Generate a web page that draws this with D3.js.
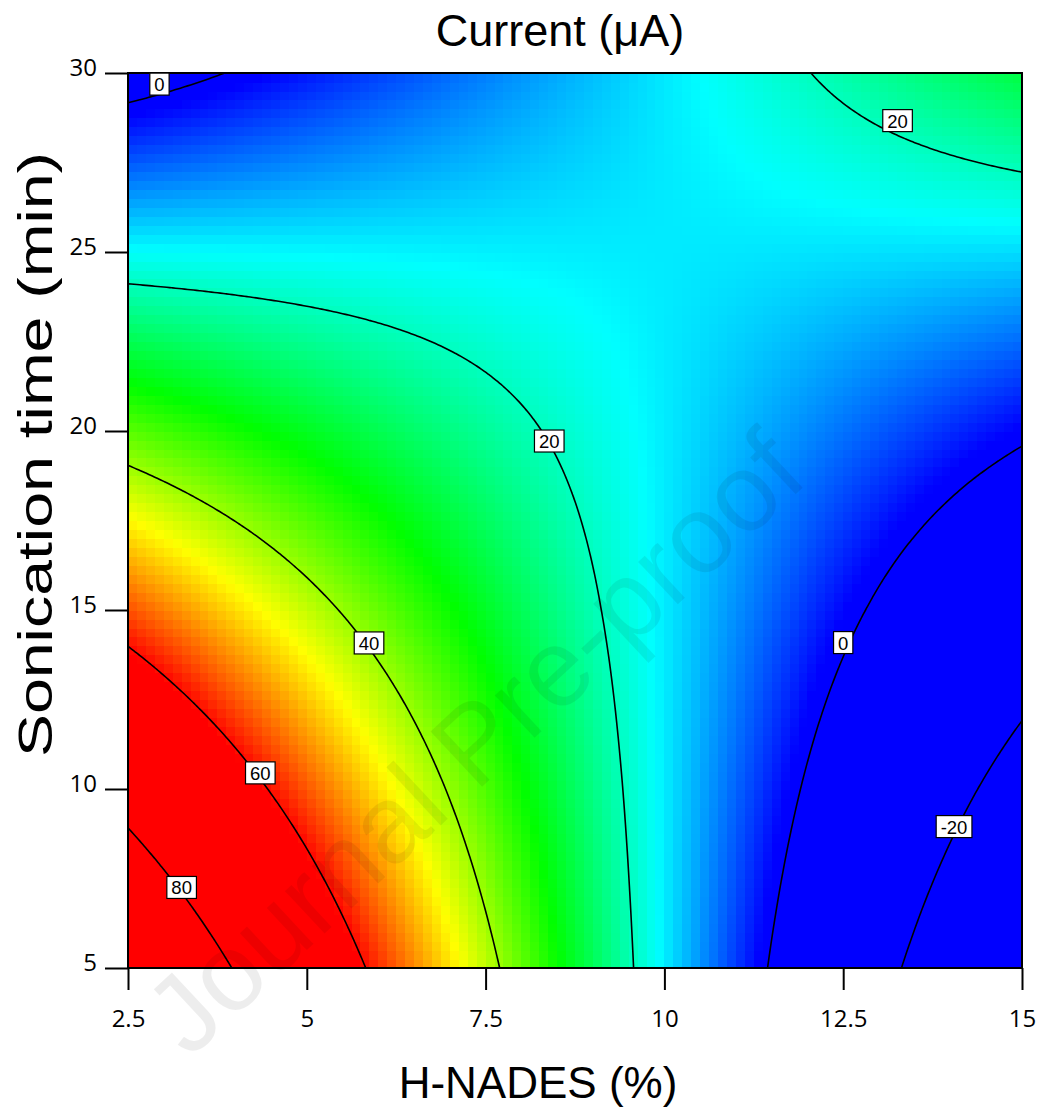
<!DOCTYPE html>
<html>
<head>
<meta charset="utf-8">
<script src="https://cdn.jsdelivr.net/npm/d3@7"></script>
<style>
  html, body { margin: 0; padding: 0; background: #fff; }
  svg { display: block; }
</style>
</head>
<body>
<svg id="chart" width="1038" height="1108"></svg>
<script>
// ---------------- data ----------------
const hnades = [2.5, 5, 7.5, 10, 12.5, 15];          // H-NADES (%) grid columns
const sonicationTime = [5, 10, 15, 20, 25, 30];      // Sonication time (min) grid rows
// Current (µA) at each (time row, H-NADES column)
const currentGrid = [
  [95.5, 68.8, 42.1, 15.4, -11.3, -38.0],  // 5 min
  [75.7, 55.6, 35.5, 15.3,  -4.8, -25.0],  // 10 min
  [56.0, 42.4, 28.8, 15.2,   1.7, -11.9],  // 15 min
  [36.2, 29.2, 22.2, 15.2,   8.1,   1.1],  // 20 min
  [16.5, 16.0, 15.5, 15.1,  14.6,  14.2],  // 25 min
  [-3.3,  2.8,  8.9, 15.0,  21.1,  27.2]   // 30 min
];
const contourLevels = [-20, 0, 20, 40, 60, 80];
const xTickValues = [2.5, 5, 7.5, 10, 12.5, 15];
const yTickValues = [5, 10, 15, 20, 25, 30];
const xTickLabels = ["2.5", "5", "7.5", "10", "12.5", "15"];
const yTickLabels = ["5", "10", "15", "20", "25", "30"];
// contour label anchors (level, H-NADES, time)
const labelLevels = [0, 20, 20, 40, 60, 80, 0, -20];
const labelH = [2.94, 13.26, 8.39, 5.87, 4.35, 3.25, 12.5, 14.05];
const labelT = [29.69, 28.67, 19.72, 14.08, 10.45, 7.25, 14.09, 8.95];
const colorStops = [1.5, 16.25, 31, 45.75, 60.5];
const colorNames = ["#0000ff", "#00ffff", "#00ff00", "#ffff00", "#ff0000"];

// ---------------- layout ----------------
const W = 1038, H = 1108;
const plot = { left: 128, right: 1022, top: 73, bottom: 968 };

const svg = d3.select("#chart");
const x = d3.scaleLinear().domain([2.5, 15]).range([plot.left, plot.right]);
const y = d3.scaleLinear().domain([5, 30]).range([plot.bottom, plot.top]);
const color = d3.scaleLinear().domain(colorStops).range(colorNames).clamp(true);

// bilinear lookup in the read grid
function valueAt(hx, ty) {
  let i = d3.bisectRight(hnades, hx) - 1; i = Math.max(0, Math.min(hnades.length - 2, i));
  let j = d3.bisectRight(sonicationTime, ty) - 1; j = Math.max(0, Math.min(sonicationTime.length - 2, j));
  const u = (hx - hnades[i]) / (hnades[i + 1] - hnades[i]);
  const v = (ty - sonicationTime[j]) / (sonicationTime[j + 1] - sonicationTime[j]);
  const a = currentGrid[j][i], b = currentGrid[j][i + 1], c = currentGrid[j + 1][i], d = currentGrid[j + 1][i + 1];
  return a * (1 - u) * (1 - v) + b * u * (1 - v) + c * (1 - u) * v + d * u * v;
}

const defs = svg.append("defs");
defs.append("clipPath").attr("id", "plotClip").append("rect")
  .attr("x", plot.left).attr("y", plot.top)
  .attr("width", plot.right - plot.left).attr("height", plot.bottom - plot.top);

// ---------------- heat cells ----------------
const N = 100;
const cells = [];
const hx0 = x.domain()[0], hx1 = x.domain()[1], ty0 = y.domain()[0], ty1 = y.domain()[1];
const dh = (hx1 - hx0) / N, dt = (ty1 - ty0) / N;
for (let j = 0; j < N; j++) {
  for (let i = 0; i < N; i++) {
    const h0 = hx0 + i * dh, t0 = ty0 + j * dt;
    cells.push({ h0, h1: h0 + dh, t0, t1: t0 + dt, v: valueAt(h0 + dh / 2, t0 + dt / 2) });
  }
}
const gHeat = svg.append("g").attr("clip-path", "url(#plotClip)").attr("shape-rendering", "crispEdges");
gHeat.selectAll("rect").data(cells).join("rect")
  .attr("x", d => x(d.h0))
  .attr("y", d => y(d.t1))
  .attr("width", d => x(d.h1) - x(d.h0) + 0.6)
  .attr("height", d => y(d.t0) - y(d.t1) + 0.6)
  .attr("fill", d => color(d.v));

// ---------------- contour lines ----------------
const M = 301;
const fine = new Float64Array(M * M);
for (let j = 0; j < M; j++) {
  for (let i = 0; i < M; i++) {
    fine[j * M + i] = valueAt(hx0 + i * (hx1 - hx0) / (M - 1), ty0 + j * (ty1 - ty0) / (M - 1));
  }
}
const contours = d3.contours().size([M, M]).thresholds(contourLevels)(fine);
const proj = d3.geoTransform({
  point(cx, cy) {
    const hv = hx0 + (cx - 0.5) * (hx1 - hx0) / (M - 1);
    const tv = ty0 + (cy - 0.5) * (ty1 - ty0) / (M - 1);
    this.stream.point(x(hv), y(tv));
  }
});
const path = d3.geoPath(proj);
svg.append("g").attr("clip-path", "url(#plotClip)")
  .selectAll("path").data(contours).join("path")
  .attr("d", path)
  .attr("fill", "none")
  .attr("stroke", "#000")
  .attr("stroke-width", 1.6);

// ---------------- frame ----------------
svg.append("rect")
  .attr("x", plot.left).attr("y", plot.top)
  .attr("width", plot.right - plot.left).attr("height", plot.bottom - plot.top)
  .attr("fill", "none").attr("stroke", "#000").attr("stroke-width", 2);

// ---------------- axes ----------------
const tickFont = "'Open Sans', 'Liberation Sans', Arial, sans-serif";
const xAxis = d3.axisBottom(x).tickValues(xTickValues)
  .tickFormat((d, i) => xTickLabels[i]).tickSize(22).tickSizeOuter(0).tickPadding(20);
const gx = svg.append("g").attr("transform", `translate(0,${plot.bottom})`).call(xAxis);
gx.select(".domain").remove();
gx.selectAll("line").attr("stroke", "#000").attr("stroke-width", 2);
gx.selectAll("text").attr("font-family", tickFont).attr("font-size", 24).attr("fill", "#000");

const yAxis = d3.axisLeft(y).tickValues(yTickValues)
  .tickFormat((d, i) => yTickLabels[i]).tickSize(23).tickSizeOuter(0).tickPadding(8);
const gy = svg.append("g").attr("transform", `translate(${plot.left},0)`).call(yAxis);
gy.select(".domain").remove();
gy.selectAll("line").attr("stroke", "#000").attr("stroke-width", 2);
gy.selectAll("text").attr("font-family", tickFont).attr("font-size", 24).attr("fill", "#000")
  .attr("dy", "2.5px");

// ---------------- contour labels ----------------
const gLab = svg.append("g");
labelLevels.forEach((lv, k) => {
  const cx = x(labelH[k]), cy = y(labelT[k]);
  const g = gLab.append("g");
  const r = g.append("rect");
  const t = g.append("text")
    .attr("x", cx).attr("y", cy + 7)
    .attr("text-anchor", "middle")
    .attr("font-family", "'Liberation Sans', Arial, sans-serif")
    .attr("font-size", 18.5)
    .attr("fill", "#000")
    .text(String(lv));
  const w = t.node().getComputedTextLength() + 9;
  r.attr("x", cx - w / 2).attr("y", cy - 11).attr("width", w).attr("height", 22)
    .attr("fill", "#fff").attr("stroke", "#000").attr("stroke-width", 1.2);
});

// ---------------- titles ----------------
svg.append("text")
  .attr("x", 560).attr("y", 46)
  .attr("text-anchor", "middle")
  .attr("font-family", "'Liberation Sans', Arial, sans-serif")
  .attr("font-size", 45)
  .attr("fill", "#000")
  .text("Current (μA)");

svg.append("text")
  .attr("x", 538).attr("y", 1098)
  .attr("text-anchor", "middle")
  .attr("font-family", "'Liberation Sans', Arial, sans-serif")
  .attr("font-size", 44)
  .attr("fill", "#000")
  .text("H-NADES (%)");

svg.append("text")
  .attr("transform", `translate(52,${(152 + 757) / 2}) rotate(-90)`)
  .attr("text-anchor", "middle")
  .attr("font-family", "'Liberation Sans', Arial, sans-serif")
  .attr("font-size", 48)
  .attr("fill", "#000")
  .attr("textLength", 605)
  .attr("lengthAdjust", "spacingAndGlyphs")
  .text("Sonication time (min)");

// ---------------- watermark ----------------
svg.append("text")
  .attr("transform", "translate(500,770) rotate(-43)")
  .attr("text-anchor", "middle")
  .attr("font-family", "'Liberation Sans', Arial, sans-serif")
  .attr("font-size", 110)
  .attr("fill", "#000")
  .attr("fill-opacity", 0.07)
  .text("Journal Pre-proof");
</script>
</body>
</html>
